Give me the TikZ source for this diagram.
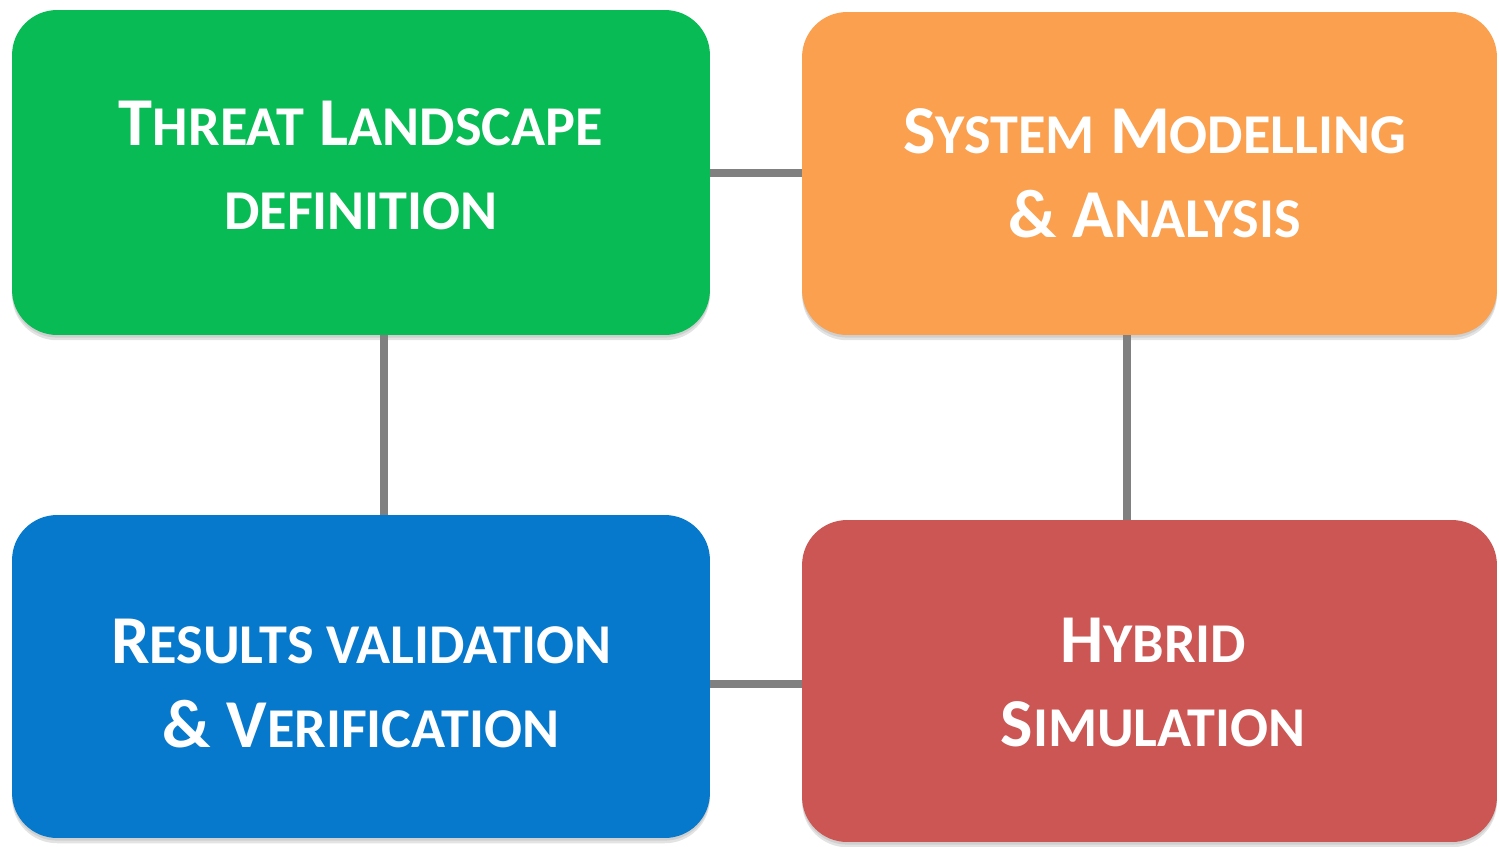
\documentclass[tikz,border=0pt]{standalone}
\usepackage{fontspec}
\setmainfont{Carlito}
\usetikzlibrary{shadows}
\definecolor{cgreen}{RGB}{8,187,85}
\definecolor{corange}{RGB}{250,160,78}
\definecolor{cblue}{RGB}{7,121,204}
\definecolor{cred}{RGB}{203,86,83}
\definecolor{cline}{RGB}{128,128,128}
\newcommand\smc[1]{{\fontsize{32}{40}\selectfont #1}}
\tikzset{
  box/.style={rectangle, rounded corners=0.9cm, draw=none,
    drop shadow={shadow xshift=0pt, shadow yshift=-3pt, opacity=0.22},
    drop shadow={shadow xshift=0pt, shadow yshift=-1.5pt, opacity=0.2}},
  boxtext/.style={text=white, align=center, inner sep=0pt,
    font=\bfseries\fontsize{39}{47.6}\selectfont},
  conn/.style={draw=cline, line width=4.5pt}
}
\begin{document}
\begin{tikzpicture}[x=0.02cm,y=-0.02cm]
\useasboundingbox (0,0) rectangle (1499,846);
\coordinate (gc) at (361,172.5);
\coordinate (oc) at (1149.5,173.5);
\coordinate (bc) at (361,676.5);
\coordinate (rc) at (1149.5,681);
% connectors first (behind boxes)
\path (gc) ++(0,0.5) coordinate (h1a);
\draw[conn] (h1a) -- (h1a -| oc);
\path (gc) ++(23,0) coordinate (v1a);
\draw[conn] (v1a) -- (v1a |- bc);
\path (oc) ++(-22.5,0) coordinate (v2a);
\draw[conn] (v2a) -- (v2a |- rc);
\path (bc) ++(0,7.5) coordinate (h2a);
\draw[conn] (h2a) -- (h2a -| rc);
% boxes
\node[box, fill=cgreen, minimum width=13.96cm, minimum height=6.5cm] (green) at (gc) {};
\node[box, fill=corange, minimum width=13.9cm, minimum height=6.46cm] (orange) at (oc) {};
\node[box, fill=cblue, minimum width=13.96cm, minimum height=6.46cm] (blue) at (bc) {};
\node[box, fill=cred, minimum width=13.9cm, minimum height=6.44cm] (red) at (rc) {};
% texts
\node[boxtext] (greent) at ([yshift=4pt]green.center)
  {T\smc{HREAT} L\smc{ANDSCAPE}\\\smc{DEFINITION}};
\node[boxtext] (oranget) at ([xshift=3pt,yshift=0pt]orange.center)
  {S\smc{YSTEM} M\smc{ODELLING}\\\& A\smc{NALYSIS}};
\node[boxtext] (bluet) at ([yshift=-4pt]blue.center)
  {R\smc{ESULTS VALIDATION}\\\& V\smc{ERIFICATION}};
\node[boxtext] (redt) at ([xshift=2pt,yshift=-1pt]red.center)
  {H\smc{YBRID}\\S\smc{IMULATION}};
\end{tikzpicture}
\end{document}
